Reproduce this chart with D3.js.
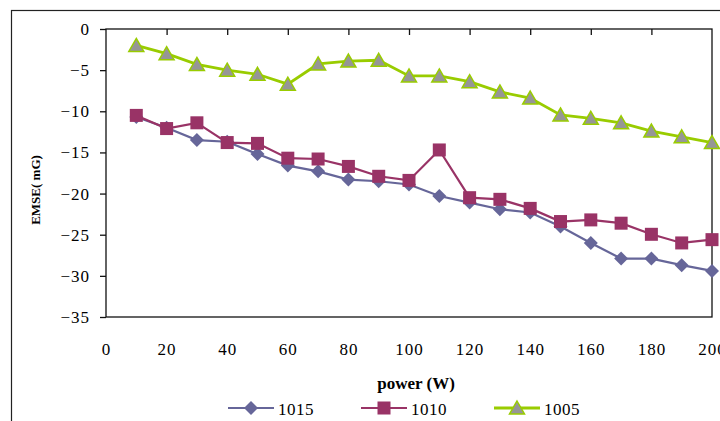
<!DOCTYPE html>
<html><head><meta charset="utf-8">
<script src="https://cdn.jsdelivr.net/npm/d3@7"></script>
<style>
html,body{margin:0;padding:0;background:#fff;overflow:hidden}
text{font-family:"Liberation Serif","DejaVu Serif",serif;fill:#000}
</style></head>
<body>
<svg id="chart" width="720" height="421"></svg>
<script>
// ---- data ----
const power = [10,20,30,40,50,60,70,80,90,100,110,120,130,140,150,160,170,180,190,200];
const s1015 = [-10.7,-12.0,-13.5,-13.7,-15.2,-16.6,-17.3,-18.3,-18.5,-18.9,-20.3,-21.1,-21.9,-22.3,-24.0,-26.0,-27.9,-27.9,-28.7,-29.4];
const s1010 = [-10.5,-12.1,-11.4,-13.8,-13.9,-15.7,-15.8,-16.7,-17.9,-18.4,-14.7,-20.5,-20.7,-21.8,-23.4,-23.2,-23.6,-24.95,-26.0,-25.6];
const s1005 = [-2.0,-3.0,-4.3,-5.0,-5.5,-6.7,-4.25,-3.9,-3.8,-5.7,-5.7,-6.4,-7.65,-8.4,-10.45,-10.85,-11.4,-12.4,-13.1,-13.8];
const seriesNames = ["1015","1010","1005"];
const xTickValues = [0,20,40,60,80,100,120,140,160,180,200];
const yTickValues = [0,-5,-10,-15,-20,-25,-30,-35];
const xTitle = "power (W)";
const yTitle = "EMSE( mG)";

const svg = d3.select("#chart");
const x = d3.scaleLinear().domain([0,200]).range([106,712]);
const y = d3.scaleLinear().domain([-35,0]).range([317,29]);

// outer chart border (extends past viewport right/bottom)
svg.append("rect").attr("x",11.5).attr("y",10.5).attr("width",760).attr("height",450)
  .attr("fill","none").attr("stroke","#222").attr("stroke-width",1.2);

// plot frame
svg.append("rect").attr("x",x(0)).attr("y",y(0)).attr("width",x(200)-x(0)).attr("height",y(-35)-y(0))
  .attr("fill","none").attr("stroke","#111").attr("stroke-width",1.3);

// x axis ticks at y=0 (pointing down, no labels)
const gxt = svg.append("g").attr("transform",`translate(0,${y(0)})`)
  .call(d3.axisBottom(x).tickValues(xTickValues.filter(v=>v>0&&v<200)).tickSize(6).tickFormat(""));
gxt.select(".domain").remove();
gxt.selectAll("line").attr("stroke","#111").attr("stroke-width",1.3);

// x tick labels at bottom
const gxl = svg.append("g").attr("transform",`translate(0,${y(-35)})`)
  .call(d3.axisBottom(x).tickValues(xTickValues).tickSize(0).tickPadding(26).tickFormat(d=>String(d)));
gxl.select(".domain").remove();
gxl.selectAll("text").style("font-size","17px").style("letter-spacing","1px").style("font-family","Liberation Serif");

// y axis
const gy = svg.append("g").attr("transform",`translate(${x(0)},0)`)
  .call(d3.axisLeft(y).tickValues(yTickValues).tickSize(6).tickPadding(10).tickFormat(d=>d===0?"0":"−"+Math.abs(d)));
gy.select(".domain").remove();
gy.selectAll("line").attr("stroke","#111").attr("stroke-width",1.3);
gy.selectAll("text").style("font-size","17px").style("letter-spacing","1px").style("font-family","Liberation Serif");

// axis titles
svg.append("text").attr("x",416).attr("y",389).attr("text-anchor","middle")
  .style("font-size","17px").style("font-weight","bold").text(xTitle);
svg.append("text").attr("transform","translate(40,190) rotate(-90)").attr("text-anchor","middle")
  .style("font-size","13px").style("font-weight","bold").text(yTitle);

// markers
function diamond(g,cx,cy){ g.append("path").attr("d",`M${cx},${cy-7}L${cx+7},${cy}L${cx},${cy+7}L${cx-7},${cy}Z`).attr("fill","#666699"); }
function square(g,cx,cy){ g.append("rect").attr("x",cx-6.5).attr("y",cy-6.5).attr("width",13).attr("height",13).attr("fill","#993366"); }
function triangle(g,cx,cy){ g.append("path").attr("d",`M${cx},${cy-7}L${cx+7.5},${cy+6}L${cx-7.5},${cy+6}Z`).attr("fill","#969696").attr("stroke","#99CC00").attr("stroke-width",1.5); }

const series = [
  {name:seriesNames[0], vals:s1015, color:"#666699", w:2.2, mk:diamond},
  {name:seriesNames[1], vals:s1010, color:"#993366", w:2.2, mk:square},
  {name:seriesNames[2], vals:s1005, color:"#99CC00", w:2.8, mk:triangle}
];
const line = d3.line().x(d=>x(d[0])).y(d=>y(d[1]));
series.forEach(s=>{
  const pts = power.map((p,i)=>[p,s.vals[i]]);
  const g = svg.append("g");
  g.append("path").attr("d",line(pts)).attr("fill","none").attr("stroke",s.color).attr("stroke-width",s.w);
  pts.forEach(p=>s.mk(g,x(p[0]),y(p[1])));
});

// legend
const legX = [228,361,494];
series.forEach((s,i)=>{
  const g = svg.append("g");
  const lx = legX[i], ly = 408;
  g.append("line").attr("x1",lx).attr("x2",lx+46).attr("y1",ly).attr("y2",ly).attr("stroke",s.color).attr("stroke-width",s.w);
  s.mk(g,lx+23,ly);
  g.append("text").attr("x",lx+50).attr("y",ly+7).style("font-size","17px").style("letter-spacing","0.5px").text(s.name);
});
</script>
</body></html>
